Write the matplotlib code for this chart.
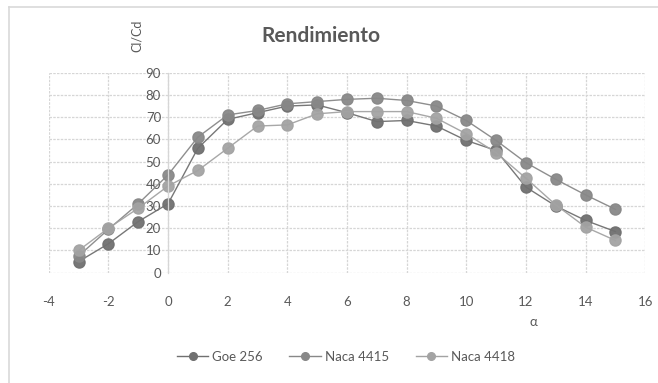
import matplotlib
matplotlib.use("Agg")
import matplotlib.pyplot as plt
from matplotlib.lines import Line2D

alpha = [-3, -2, -1, 0, 1, 2, 3, 4, 5, 6, 7, 8, 9, 10, 11, 12, 13, 14, 15]
goe_256 = [5, 13, 23, 31, 56, 69, 72, 75, 75.5, 72, 68, 68.5, 66, 59.5, 55, 38.5, 30, 23.5, 18.5]
naca_4415 = [7.5, 19.5, 31, 44, 61, 71, 73, 76, 77, 78, 78.5, 77.5, 75, 68.5, 59.5, 49.5, 42, 35, 28.5]
naca_4418 = [10, 20, 29, 39, 46, 56, 66, 66.5, 71.5, 72.5, 72.5, 72.5, 69.5, 62.5, 54, 42.5, 30.5, 20.5, 14.5]
series_names = ["Goe 256", "Naca 4415", "Naca 4418"]
x_ticks = [-4, -2, 0, 2, 4, 6, 8, 10, 12, 14, 16]
y_ticks = [0, 10, 20, 30, 40, 50, 60, 70, 80, 90]

plt.rcParams['font.family'] = ['Lato', 'DejaVu Sans']
plt.rcParams['axes.unicode_minus'] = False

fig = plt.figure(figsize=(6.58, 3.83), dpi=100)
ax = fig.add_axes([48.7/658, 1-272.7/383, (645.3-48.7)/658, 200/383])

colors = ["#707070", "#888888", "#a3a3a3"]
for ys, name, c in zip([goe_256, naca_4415, naca_4418], series_names, colors):
    ax.plot(alpha, ys, color=c, lw=1.0, marker='o', ms=8, mfc=c, mec=c,
            label=name, alpha=0.95)

ax.set_xlim(-4, 16)
ax.set_ylim(0, 90)
ax.set_xticks(x_ticks)
ax.set_yticks(y_ticks)
ax.grid(True, color="#d6d6d6", lw=0.9, ls=(0, (2, 1)))
ax.set_axisbelow(True)
for s in ['top', 'right', 'bottom']:
    ax.spines[s].set_visible(False)
ax.spines['left'].set_position(('data', 0))
ax.spines['left'].set_color("#d6d6d6")
ax.spines['left'].set_linewidth(0.9)
ax.tick_params(axis='both', length=0, labelsize=9.5, labelcolor="#595959")
ax.tick_params(axis='x', pad=17)
ax.tick_params(axis='y', pad=5)

fig.text(321/658, 1-36/383, "Rendimiento", ha='center', va='center',
         fontsize=15, fontweight='bold', color="#595959")
fig.text(137/658, 1-36/383, "Cl/Cd", rotation=90, ha='center', va='center',
         fontsize=9, color="#595959")
fig.text(533/658, 1-322/383, "α", ha='center', va='center',
         fontsize=9.5, color="#595959")

handles = [Line2D([0], [0], color=c, lw=1.0, marker='o', ms=5.5, mfc=c, mec=c)
           for c in colors]
fig.legend(handles, series_names, loc='center', bbox_to_anchor=(346/658, 1-357/383),
           ncol=3, frameon=False, fontsize=9.5, labelcolor="#595959",
           handlelength=2.4, columnspacing=2.0, handletextpad=0.3)

# chart-area border (top and left visible)
fig.add_artist(Line2D([9/658, 1], [1-7/383, 1-7/383], color="#d9d9d9", lw=1.2,
                      transform=fig.transFigure))
fig.add_artist(Line2D([9/658, 9/658], [0, 1-7/383], color="#d9d9d9", lw=1.2,
                      transform=fig.transFigure))

fig.savefig("out.png", dpi=100, facecolor="white")
